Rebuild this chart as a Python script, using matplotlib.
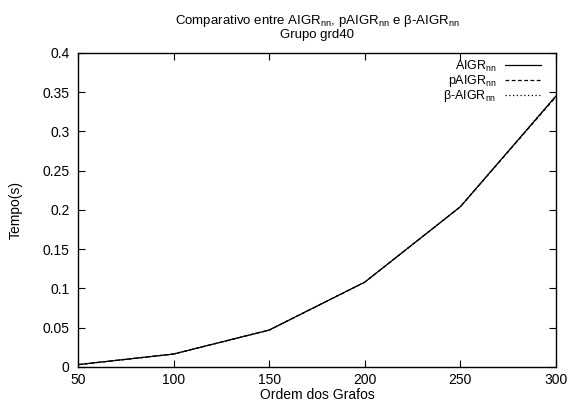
"""Comparativo AIGR - grupo grd40."""

import matplotlib

matplotlib.use("Agg")
from matplotlib import pyplot as plt

ordem = [50, 100, 150, 200, 250, 300]
aigr = [0.003, 0.0165, 0.047, 0.108, 0.204, 0.345]
paigr = [0.003, 0.0165, 0.047, 0.108, 0.204, 0.344]
beta_aigr = [0.003, 0.0165, 0.047, 0.108, 0.204, 0.345]

x_ticks = [50, 100, 150, 200, 250, 300]
y_ticks = [0, 0.05, 0.1, 0.15, 0.2, 0.25, 0.3, 0.35, 0.4]
y_labels = ["0", "0.05", "0.1", "0.15", "0.2", "0.25", "0.3", "0.35", "0.4"]

plt.rcParams["font.family"] = ["Liberation Sans", "DejaVu Sans"]
plt.rcParams["mathtext.fontset"] = "custom"
plt.rcParams["mathtext.rm"] = "Liberation Sans"
plt.rcParams["mathtext.it"] = "Liberation Sans:italic"
plt.rcParams["font.size"] = 10

fig = plt.figure(figsize=(5.69, 4.08), dpi=100)
ax = fig.add_axes([0.137, 0.1005, 0.840, 0.770])

ax.plot(ordem, aigr, color="black", lw=0.9, label=r"AIGR$_\mathrm{nn}$")
ax.plot(ordem, paigr, color="black", lw=0.9, ls=(0, (3, 2)), label=r"pAIGR$_\mathrm{nn}$")
ax.plot(ordem, beta_aigr, color="black", lw=0.9, ls=(0, (1, 2)), label=r"β-AIGR$_\mathrm{nn}$")

ax.set_xlim(50, 300)
ax.set_ylim(0, 0.4)
ax.set_xticks(x_ticks)
ax.set_yticks(y_ticks)
ax.set_yticklabels(y_labels)
ax.tick_params(direction="in", length=5, width=0.8, top=True, right=True)
ax.tick_params(axis="y", pad=6)
ax.tick_params(axis="x", pad=4)
for side in ax.spines.values():
    side.set_linewidth(1.0)

ax.set_xlabel("Ordem dos Grafos", labelpad=1)
ax.set_ylabel("Tempo(s)", labelpad=14)
ax.set_title(
    "Comparativo entre AIGR$_\\mathrm{nn}$, pAIGR$_\\mathrm{nn}$ e β-AIGR$_\\mathrm{nn}$\nGrupo grd40",
    fontsize=9.5, pad=11, linespacing=1.0,
)

ax.legend(
    loc="upper right", bbox_to_anchor=(0.975, 0.99), frameon=False,
    markerfirst=False, handlelength=2.9, fontsize=9, borderpad=0.2,
    labelspacing=-0.05, borderaxespad=0.0, handletextpad=0.7,
)

fig.savefig("out.png", dpi=100)
